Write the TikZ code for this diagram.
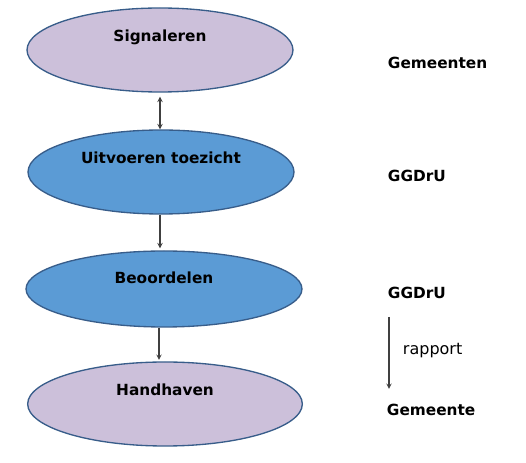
\documentclass[tikz,border=0pt]{standalone}
\usepackage{fontspec}
\setmainfont{DejaVu Sans}
\usetikzlibrary{shapes.geometric}
\definecolor{lila}{HTML}{CCC0DA}
\definecolor{blauw}{HTML}{5B9BD5}
\definecolor{rand}{HTML}{385D8A}
\begin{document}
\begin{tikzpicture}[x=0.75pt,y=-0.75pt,line width=0.8pt,
  stap/.style={ellipse,draw=rand,line width=1pt,inner sep=0pt},
  stapt/.style={font=\fontsize{11.5}{13}\selectfont\bfseries},
  wie/.style={anchor=west,font=\fontsize{11.5}{13}\selectfont\bfseries},
  pijl/.style={->,draw=black!75,>=stealth}]
\useasboundingbox (0,0) rectangle (526,463);
\node[stap,fill=lila,minimum width=199.5pt,minimum height=63pt] (sig) at (160,50) {};
\node[stapt] at (160,37) {Signaleren};
\node[stap,fill=blauw,minimum width=199.5pt,minimum height=63pt] (uit) at (161,172) {};
\node[stapt] at (161,158) {Uitvoeren toezicht};
\node[stap,fill=blauw,minimum width=207pt,minimum height=57pt] (beo) at (164,289) {};
\node[stapt] at (164,278) {Beoordelen};
\node[stap,fill=lila,minimum width=206pt,minimum height=63pt] (han) at (165,404) {};
\node[stapt] at (165,390) {Handhaven};
% pijlen tussen de stappen
\draw[pijl,<->] ([yshift=-3pt]sig.south) -- (sig.south |- uit.north);
\draw[pijl] (sig.south |- uit.south) -- ([yshift=1.5pt]sig.south |- beo.north);
\draw[pijl] ([xshift=-0.75pt]sig.south |- beo.south) -- ([xshift=-0.75pt,yshift=1pt]sig.south |- han.north);
% wie doet wat
\node[wie] (gem) at (383,63) {Gemeenten};
\node[wie] (ggd1) at (383,176) {GGDrU};
\node[wie] (ggd2) at (383,293) {GGDrU};
\node[wie] (gem2) at (382,410) {Gemeente};
\coordinate (rb) at (389,317);
\coordinate (re) at (389,389);
\draw[pijl] (rb) -- (re);
\node[anchor=west,font=\fontsize{12}{14}\selectfont] (rap) at (398,351) {rapport};
\end{tikzpicture}
\end{document}
